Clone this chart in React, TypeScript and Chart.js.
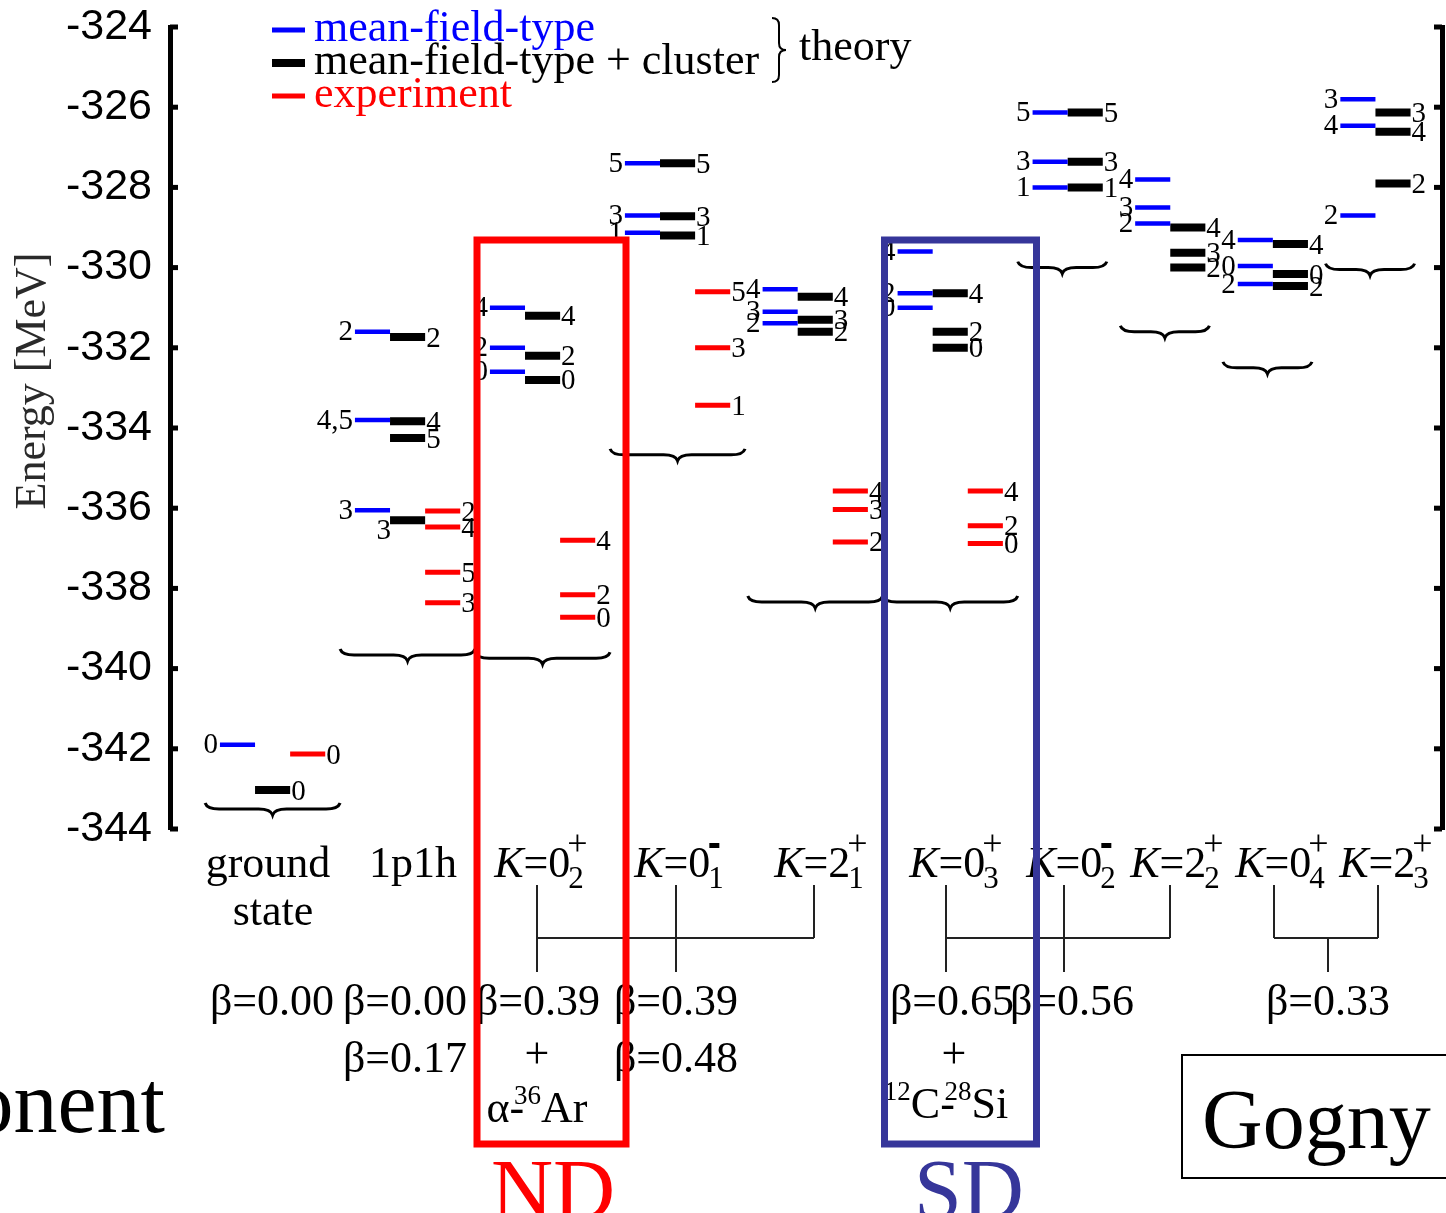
import React, { useEffect, useRef } from "react";
import { Chart, registerables } from "chart.js";

Chart.register(...registerables);

const W = 1446;
const H = 1213;

// ---------------- data ----------------
const COLUMNS = ["ground state", "1p1h", "K=0_2^+", "K=0_1^-", "K=2_1^+", "K=0_3^+", "K=0_2^-", "K=2_2^+", "K=0_4^+", "K=2_3^+"];

const Y_MIN = -344;
const Y_MAX = -324;
const Y_STEP = 2;

const LEGEND_LABELS = ["mean-field-type", "mean-field-type + cluster", "experiment"];

// mean-field-type (blue)
const MF_ENERGY = [
  [-341.9],
  [-331.6, -333.8, -336.05],
  [-331.0, -332.0, -332.6],
  [-327.4, -328.7, -329.13],
  [-330.54, -331.1, -331.39],
  [-329.6, -330.64, -331.0],
  [-326.13, -327.36, -328.0],
  [-327.8, -328.5, -328.9],
  [-329.31, -329.96, -330.41],
  [-325.8, -326.46, -328.7],
];
const MF_SPIN = [["0"], ["2", "4,5", "3"], ["4", "2", "0"], ["5", "3", "1"], ["4", "3", "2"], ["4", "2", "0"], ["5", "3", "1"], ["4", "3", "2"], ["4", "0", "2"], ["3", "4", "2"]];

// mean-field-type + cluster (black)
const CL_ENERGY = [
  [-343.03],
  [-331.73, -333.83, -334.25, -336.3],
  [-331.2, -332.2, -332.8],
  [-327.4, -328.72, -329.2],
  [-330.73, -331.3, -331.6],
  [-330.64, -331.6, -332.0],
  [-326.13, -327.36, -328.0],
  [-329.0, -329.63, -330.0],
  [-329.41, -330.16, -330.46],
  [-326.13, -326.61, -327.9],
];
const CL_SPIN = [["0"], ["2", "4", "5", "3"], ["4", "2", "0"], ["5", "3", "1"], ["4", "3", "2"], ["4", "2", "0"], ["5", "3", "1"], ["4", "3", "2"], ["4", "0", "2"], ["3", "4", "2"]];

// experiment (red)
const EXP_ENERGY = [
  [-342.13],
  [-336.07, -336.47, -337.6, -338.36],
  [-336.8, -338.16, -338.72],
  [-330.6, -332.0, -333.43],
  [-335.57, -336.03, -336.84],
  [-335.57, -336.44, -336.88],
  [], [], [], [],
];
const EXP_SPIN = [["0"], ["2", "4", "5", "3"], ["4", "2", "0"], ["5", "3", "1"], ["4", "3", "2"], ["4", "2", "0"], [], [], [], []];

// energy at which each band's brace sits
const BRACE_ENERGY = [-343.5, -339.66, -339.74, -334.67, -338.34, -338.34, -330.0, -331.6, -332.5, -330.05];

const BETA_ROW1 = ["β=0.00", "β=0.00", "β=0.39", "β=0.39", "β=0.65", "β=0.56", "β=0.33"];
const BETA_ROW2 = ["β=0.17", "+", "β=0.48", "+"];

// ---------------- layout ----------------
const COLUMN_POS = [0, 1, 2, 3, 4.02, 5.02, 6.02, 6.78, 7.54, 8.3];
const X_MIN = -0.63;
const X_MAX = 8.793;
const SEG = 0.26;

const SERIF = "'Liberation Serif', 'Times New Roman', serif";
const SANS = "'Liberation Sans', Arial, sans-serif";
const BLUE = "#0000ff";
const RED = "#ff0000";
const BOX_BLUE = "#36369a";

function segments(energies: number[][], a: number, b: number) {
  const pts: { x: number; y: number | null }[] = [];
  energies.forEach((col, ci) =>
    col.forEach((e) => {
      pts.push({ x: COLUMN_POS[ci] + a, y: e });
      pts.push({ x: COLUMN_POS[ci] + b, y: e });
      pts.push({ x: COLUMN_POS[ci] + b, y: null });
    })
  );
  return pts;
}

function hBrace(ctx: CanvasRenderingContext2D, x1: number, x2: number, y: number) {
  const m = (x1 + x2) / 2;
  const h = 6;
  const r = 14;
  ctx.beginPath();
  ctx.moveTo(x1, y - h);
  ctx.quadraticCurveTo(x1 + 2, y, x1 + r, y);
  ctx.lineTo(m - r, y);
  ctx.quadraticCurveTo(m - 2, y, m, y + h);
  ctx.quadraticCurveTo(m + 2, y, m + r, y);
  ctx.lineTo(x2 - r, y);
  ctx.quadraticCurveTo(x2 - 2, y, x2, y - h);
  ctx.stroke();
}

function drawPieces(ctx: CanvasRenderingContext2D, cx: number, base: number, pieces: { t: string; f: string; dy: number; adv?: number }[]) {
  let total = 0;
  const widths = pieces.map((p) => {
    ctx.font = p.f;
    return ctx.measureText(p.t).width;
  });
  pieces.forEach((p, i) => (total += p.adv !== undefined ? p.adv * widths[i] : widths[i]));
  let x = cx - total / 2;
  ctx.textAlign = "left";
  ctx.textBaseline = "alphabetic";
  pieces.forEach((p, i) => {
    ctx.font = p.f;
    ctx.fillText(p.t, x, base + p.dy);
    x += p.adv !== undefined ? p.adv * widths[i] : widths[i];
  });
}

function drawK(ctx: CanvasRenderingContext2D, cx: number, base: number, label: string) {
  // label like K=0_2^+
  const m = label.match(/K=(\d)_(\d)\^([+-])/)!;
  const big = `44px ${SERIF}`;
  const bigI = `italic 44px ${SERIF}`;
  const small = `31px ${SERIF}`;
  const supF = `36px ${SERIF}`;
  ctx.fillStyle = "#000";
  ctx.font = bigI;
  const wK = ctx.measureText("K").width;
  ctx.font = big;
  const wEq = ctx.measureText("=").width;
  const wN = ctx.measureText(m[1]).width;
  ctx.font = small;
  const wS = ctx.measureText(m[2]).width;
  const total = wK + wEq + wN + wS;
  let x = cx - total / 2;
  ctx.textAlign = "left";
  ctx.textBaseline = "alphabetic";
  ctx.font = bigI;
  ctx.fillText("K", x, base);
  x += wK;
  ctx.font = big;
  ctx.fillText("=", x, base);
  x += wEq;
  ctx.fillText(m[1], x, base);
  x += wN - 2;
  ctx.font = small;
  ctx.fillText(m[2], x, base + 11);
  if (m[3] === "+") {
    ctx.font = supF;
    ctx.fillText("+", x - 1, base - 22);
  } else {
    ctx.fillRect(x + 1, base - 34, 10, 5);
  }
}

const annotations = {
  id: "levelAnnotations",
  afterDatasetsDraw(chart: any) {
    const ctx: CanvasRenderingContext2D = chart.ctx;
    const xs = chart.scales.x;
    const ys = chart.scales.y;
    ctx.save();
    // spin labels
    ctx.fillStyle = "#000";
    ctx.font = `29px ${SERIF}`;
    ctx.textBaseline = "middle";
    MF_ENERGY.forEach((col, ci) =>
      col.forEach((e, i) => {
        ctx.textAlign = "right";
        ctx.fillText(MF_SPIN[ci][i], xs.getPixelForValue(COLUMN_POS[ci] - SEG) - 2, ys.getPixelForValue(e) + 1);
      })
    );
    CL_ENERGY.forEach((col, ci) =>
      col.forEach((e, i) => {
        if (ci === 1 && i === 3) {
          ctx.textAlign = "right";
          ctx.fillText(CL_SPIN[ci][i], xs.getPixelForValue(COLUMN_POS[ci]) + 1, ys.getPixelForValue(e) + 11);
          return;
        }
        ctx.textAlign = "left";
        ctx.fillText(CL_SPIN[ci][i], xs.getPixelForValue(COLUMN_POS[ci] + SEG) + 1, ys.getPixelForValue(e) + 2);
      })
    );
    EXP_ENERGY.forEach((col, ci) =>
      col.forEach((e, i) => {
        ctx.textAlign = "left";
        ctx.fillText(EXP_SPIN[ci][i], xs.getPixelForValue(COLUMN_POS[ci] + 2 * SEG) + 1, ys.getPixelForValue(e) + 2);
      })
    );
    // braces
    ctx.strokeStyle = "#000";
    ctx.lineWidth = 3;
    BRACE_ENERGY.forEach((e, ci) => {
      const hasExp = EXP_ENERGY[ci].length > 0;
      const x1 = xs.getPixelForValue(COLUMN_POS[ci] - 0.37);
      const x2 = xs.getPixelForValue(COLUMN_POS[ci] + (hasExp ? 0.63 : 0.29));
      hBrace(ctx, x1, x2, ys.getPixelForValue(e));
    });
    ctx.restore();
  },
  afterDraw(chart: any) {
    const ctx: CanvasRenderingContext2D = chart.ctx;
    const ys = chart.scales.y;
    const area = chart.chartArea;
    ctx.save();
    // inward tick marks
    ctx.fillStyle = "#000";
    ys.ticks.forEach((t: any) => {
      const py = ys.getPixelForValue(t.value);
      ctx.fillRect(area.left, py - 2.5, 8, 5);
      ctx.fillRect(area.right - 8, py - 2.5, 8, 5);
    });

    // y title
    ctx.save();
    ctx.translate(33, 381);
    ctx.rotate(-Math.PI / 2);
    ctx.textAlign = "center";
    ctx.textBaseline = "middle";
    ctx.font = `44px ${SERIF}`;
    ctx.fillStyle = "#2a2a2a";
    ctx.fillText("Energy [MeV]", 0, 0);
    ctx.restore();

    // legend
    const legendColors = [BLUE, "#000", RED];
    const legendThick = [5, 8, 5];
    const legendBase = [41, 74, 107];
    LEGEND_LABELS.forEach((lab, i) => {
      ctx.fillStyle = legendColors[i];
      ctx.fillRect(272, legendBase[i] - 11 - legendThick[i] / 2, 33, legendThick[i]);
      ctx.font = `44px ${SERIF}`;
      ctx.textAlign = "left";
      ctx.textBaseline = "alphabetic";
      ctx.fillText(lab, 314, legendBase[i]);
    });
    ctx.strokeStyle = "#000";
    ctx.lineWidth = 2;
    {
      const x0 = 772, w = 7, y1 = 18, ym = 50, y2 = 82;
      ctx.beginPath();
      ctx.moveTo(x0, y1);
      ctx.quadraticCurveTo(x0 + w, y1, x0 + w, y1 + w);
      ctx.lineTo(x0 + w, ym - w);
      ctx.quadraticCurveTo(x0 + w, ym, x0 + 2 * w, ym);
      ctx.quadraticCurveTo(x0 + w, ym, x0 + w, ym + w);
      ctx.lineTo(x0 + w, y2 - w);
      ctx.quadraticCurveTo(x0 + w, y2, x0, y2);
      ctx.stroke();
    }
    ctx.fillStyle = "#000";
    ctx.font = `44px ${SERIF}`;
    ctx.fillText("theory", 799, 60);

    // category labels
    ctx.textAlign = "center";
    ctx.font = `44px ${SERIF}`;
    ctx.fillText("ground", 268, 877);
    ctx.fillText("state", 273, 925);
    ctx.fillText(COLUMNS[1], 413, 877);
    const kCenters = [540, 680, 820, 955, 1072, 1176, 1281, 1385];
    COLUMNS.slice(2).forEach((lab, i) => drawK(ctx, kCenters[i], 877, lab));

    // connecting brackets
    ctx.strokeStyle = "#222";
    ctx.lineWidth = 2;
    const line = (x1: number, y1: number, x2: number, y2: number) => {
      ctx.beginPath();
      ctx.moveTo(x1, y1);
      ctx.lineTo(x2, y2);
      ctx.stroke();
    };
    line(537, 885, 537, 972);
    line(676, 885, 676, 972);
    line(814, 885, 814, 938);
    line(537, 938, 814, 938);
    line(946, 885, 946, 972);
    line(1064, 885, 1064, 972);
    line(1170, 885, 1170, 938);
    line(946, 938, 1170, 938);
    line(1274, 885, 1274, 938);
    line(1378, 885, 1378, 938);
    line(1274, 938, 1378, 938);
    line(1328, 938, 1328, 972);

    // beta labels
    ctx.fillStyle = "#000";
    ctx.font = `44px ${SERIF}`;
    ctx.textAlign = "center";
    ctx.textBaseline = "alphabetic";
    const b1x = [272, 405, 538, 676, 952, 1072, 1328];
    BETA_ROW1.forEach((t, i) => ctx.fillText(t, b1x[i], 1015));
    const b2x = [405, 537, 676, 954];
    BETA_ROW2.forEach((t, i) => ctx.fillText(t, b2x[i], t === "+" ? 1068 : 1072));
    const big = `44px ${SERIF}`;
    const sup = `27px ${SERIF}`;
    drawPieces(ctx, 537, 1122, [
      { t: "α", f: big, dy: 0 },
      { t: "-", f: big, dy: 0, adv: 0.3 },
      { t: "36", f: sup, dy: -18 },
      { t: "Ar", f: big, dy: 0 },
    ]);
    drawPieces(ctx, 946, 1118, [
      { t: "12", f: sup, dy: -18 },
      { t: "C", f: big, dy: 0 },
      { t: "-", f: big, dy: 0, adv: 0.3 },
      { t: "28", f: sup, dy: -18 },
      { t: "Si", f: big, dy: 0 },
    ]);

    // ND / SD boxes
    ctx.lineWidth = 7;
    ctx.strokeStyle = RED;
    ctx.strokeRect(477, 240, 149, 904);
    ctx.strokeStyle = BOX_BLUE;
    ctx.strokeRect(884.5, 240, 152, 904);
    ctx.textAlign = "center";
    ctx.font = `86px ${SERIF}`;
    ctx.fillStyle = RED;
    ctx.fillText("ND", 553, 1219);
    ctx.fillStyle = BOX_BLUE;
    ctx.fillText("SD", 969, 1219);

    // Gogny box
    ctx.strokeStyle = "#000";
    ctx.lineWidth = 2;
    ctx.strokeRect(1182, 1055, 280, 123);
    ctx.fillStyle = "#000";
    ctx.font = `84px ${SERIF}`;
    ctx.textAlign = "left";
    ctx.fillText("Gogny", 1202, 1148);

    // cut-off word on the left
    ctx.textAlign = "right";
    ctx.font = `88px ${SERIF}`;
    ctx.fillText("onent", 165, 1132);

    ctx.restore();
  },
};

export default function App() {
  const ref = useRef<HTMLCanvasElement>(null);
  useEffect(() => {
    const canvas = ref.current!;
    const ticks: number[] = [];
    for (let v = Y_MIN; v <= Y_MAX; v += Y_STEP) ticks.push(v);
    const chart = new Chart(canvas, {
      type: "scatter",
      data: {
        datasets: [
          {
            label: LEGEND_LABELS[0],
            data: segments(MF_ENERGY, -SEG, 0),
            showLine: true,
            spanGaps: false,
            borderColor: BLUE,
            borderWidth: 4.5,
            borderCapStyle: "butt",
            pointRadius: 0,
            pointHoverRadius: 0,
          },
          {
            label: LEGEND_LABELS[1],
            data: segments(CL_ENERGY, 0, SEG),
            showLine: true,
            spanGaps: false,
            borderColor: "#000",
            borderWidth: 8,
            borderCapStyle: "butt",
            pointRadius: 0,
            pointHoverRadius: 0,
          },
          {
            label: LEGEND_LABELS[2],
            data: segments(EXP_ENERGY, SEG, 2 * SEG),
            showLine: true,
            spanGaps: false,
            borderColor: RED,
            borderWidth: 5,
            borderCapStyle: "butt",
            pointRadius: 0,
            pointHoverRadius: 0,
          },
        ],
      } as any,
      options: {
        responsive: false,
        animation: false,
        devicePixelRatio: 1,
        layout: { padding: { top: 27, bottom: 384, left: 0, right: 4 } },
        plugins: { legend: { display: false }, tooltip: { enabled: false } },
        scales: {
          x: { type: "linear", min: X_MIN, max: X_MAX, display: false },
          y: {
            type: "linear",
            position: "left",
            min: Y_MIN,
            max: Y_MAX,
            afterBuildTicks: (scale: any) => {
              scale.ticks = ticks.map((v) => ({ value: v }));
            },
            afterFit: (scale: any) => {
              scale.width = 170;
              scale.paddingTop = 0;
              scale.paddingBottom = 0;
            },
            ticks: {
              color: "#000",
              font: { family: SANS, size: 43, lineHeight: 1 },
              padding: 18,
              callback: (v: any) => String(v),
            },
            grid: { display: false, drawTicks: false },
            border: { display: true, width: 5, color: "#000" },
          },
          y2: {
            type: "linear",
            position: "right",
            min: Y_MIN,
            max: Y_MAX,
            afterFit: (scale: any) => {
              scale.width = 0;
              scale.paddingTop = 0;
              scale.paddingBottom = 0;
            },
            ticks: { display: false },
            grid: { display: false, drawTicks: false },
            border: { display: true, width: 5, color: "#000" },
          },
        },
      } as any,
      plugins: [annotations],
    });
    return () => chart.destroy();
  }, []);
  return (
    <div style={{ position: "absolute", left: 0, top: 0, width: W, height: H, background: "#fff", overflow: "hidden" }}>
      <canvas ref={ref} width={W} height={H} style={{ width: W, height: H, display: "block" }} />
    </div>
  );
}
